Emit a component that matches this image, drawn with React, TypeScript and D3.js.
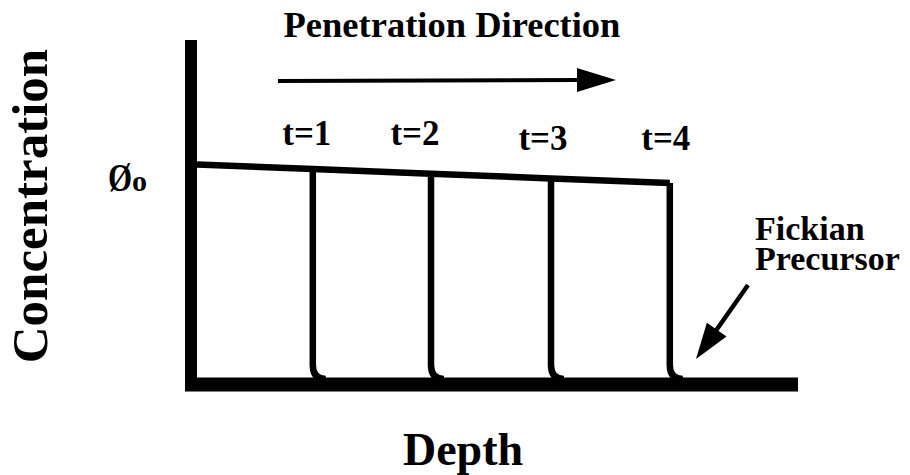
import React from "react";
import * as d3 from "d3";

// ---- data ----
const timeLabels = ["t=1", "t=2", "t=3", "t=4"];
const frontDepths = [0.193, 0.39, 0.59, 0.788]; // normalized depth of sharp front
const frontConc = [0.979, 0.957, 0.935, 0.913]; // concentration just behind front
const surfaceConc = 1.0; // Ø0 at depth 0
const yLabelText = "Concentration";
const xLabelText = "Depth";
const phiMain = "Ø";
const phiSub = "o";
const directionText = "Penetration Direction";
const precursorLines = ["Fickian", "Precursor"];

const W = 910;
const H = 475;
const FONT = "'Liberation Serif', 'Times New Roman', serif";

export default function App() {
  const x = d3.scaleLinear().domain([0, 1]).range([197, 797]);
  const y = d3.scaleLinear().domain([0, 1]).range([378, 164.5]);

  const topPts: [number, number][] = [[0, surfaceConc], ...frontDepths.map((d, i) => [d, frontConc[i]] as [number, number])];
  const topLine = d3
    .line<[number, number]>()
    .x((d) => x(d[0]))
    .y((d) => y(d[1]))(topPts) as string;

  const r = 13;
  const fronts = frontDepths.map((d, i) => {
    const p = d3.path();
    const fx = x(d);
    p.moveTo(fx, y(frontConc[i]));
    p.lineTo(fx, y(0) - r);
    p.quadraticCurveTo(fx, y(0) + 1, fx + r, y(0) + 1);
    return p.toString();
  });

  const labelBase = [145, 145, 150, 150];
  const labelShift = [-6, -16, -8, -4];

  const arrow = (x1: number, y1: number, x2: number, y2: number, hl: number, hw: number) => {
    const dx = x2 - x1, dy = y2 - y1;
    const L = Math.hypot(dx, dy);
    const ux = dx / L, uy = dy / L;
    const bx = x2 - ux * hl, by = y2 - uy * hl;
    const px = -uy, py = ux;
    return {
      line: { x1, y1, x2: bx + ux * 2, y2: by + uy * 2 },
      head: `${x2},${y2} ${bx + px * hw / 2},${by + py * hw / 2} ${bx - px * hw / 2},${by - py * hw / 2}`,
    };
  };
  const dir = arrow(278, 81, 616, 80, 39, 24);
  const fick = arrow(748, 285, 696, 359, 36, 24);

  return (
    <svg width={W} height={H} style={{ position: "absolute", left: 0, top: 0, background: "#fff" }}>
      <rect width={W} height={H} fill="#fff" />
      <line x1={191} y1={40} x2={191} y2={391} stroke="#000" strokeWidth={12} />
      <line x1={185} y1={384.5} x2={798} y2={384.5} stroke="#000" strokeWidth={14} />

      <path d={topLine} fill="none" stroke="#000" strokeWidth={6.5} strokeLinejoin="round" />
      {fronts.map((d, i) => (
        <path key={i} d={d} fill="none" stroke="#000" strokeWidth={6.5} strokeLinejoin="round" />
      ))}

      {timeLabels.map((t, i) => (
        <text
          key={t}
          x={x(frontDepths[i]) + labelShift[i]}
          y={labelBase[i]}
          textAnchor="middle"
          fontFamily={FONT}
          fontWeight="bold"
          fontSize={35}
        >
          {t}
        </text>
      ))}

      <text x={452} y={37} textAnchor="middle" fontFamily={FONT} fontWeight="bold" fontSize={36.5}>
        {directionText}
      </text>
      <line {...dir.line} stroke="#000" strokeWidth={4} />
      <polygon points={dir.head} fill="#000" />

      <text fontFamily={FONT} fontWeight="bold" fontSize={34}>
        <tspan x={755} y={240}>{precursorLines[0]}</tspan>
        <tspan x={755} y={270}>{precursorLines[1]}</tspan>
      </text>
      <line {...fick.line} stroke="#000" strokeWidth={4.5} />
      <polygon points={fick.head} fill="#000" />

      <g transform="translate(108,191) scale(1,1.3)">
        <text x={0} y={0} fontFamily={FONT} fontWeight="bold" fontSize={31}>
          {phiMain}
        </text>
      </g>
      <text x={132} y={191} fontFamily={FONT} fontWeight="bold" fontSize={30}>
        {phiSub}
      </text>

      <text
        transform={`translate(47,206) rotate(-90)`}
        textAnchor="middle"
        fontFamily={FONT}
        fontWeight="bold"
        fontSize={51}
      >
        {yLabelText}
      </text>
      <text x={463} y={465} textAnchor="middle" fontFamily={FONT} fontWeight="bold" fontSize={46}>
        {xLabelText}
      </text>
    </svg>
  );
}
